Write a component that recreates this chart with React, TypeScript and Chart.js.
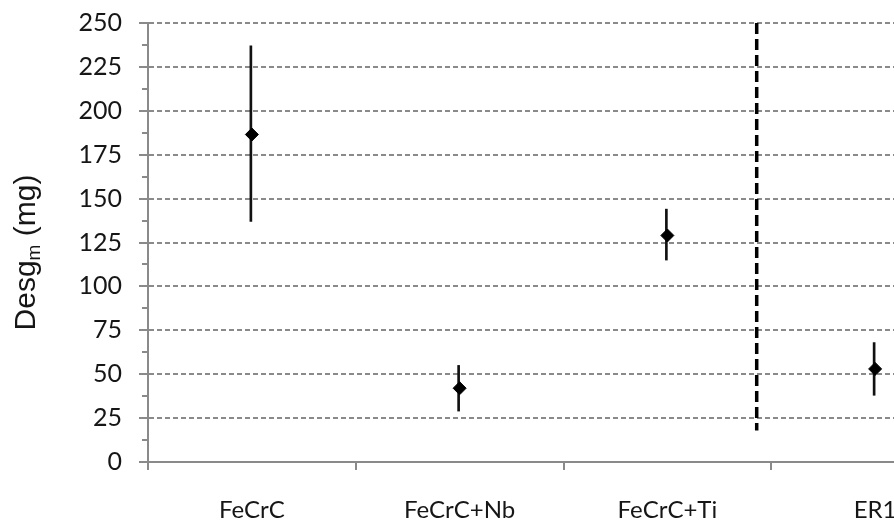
import React, { useEffect, useRef } from 'react';
import { Chart, registerables } from 'chart.js';

Chart.register(...registerables);

// ---- data ----
const categories = ['FeCrC', 'FeCrC+Nb', 'FeCrC+Ti', 'ER1'];
const meanValues = [186.5, 42, 129, 53];
const upperValues = [237, 55, 144, 68];
const lowerValues = [137, 29, 115, 38];
const yMin = 0;
const yMax = 250;
const yStep = 25;
const minorTickValues = [12.5, 37.5, 62.5, 87.5, 112.5, 137.5, 162.5, 187.5, 212.5, 237.5];
const separatorPosition = 2.43;
const separatorTop = 250;
const separatorBottom = 18;
const axisTitleMain = 'Desg';
const axisTitleSub = 'm';
const axisTitleTail = ' (mg)';

const GRAY = '#8a8a8a';
const TEXT = '#161616';

const decorPlugin = {
  id: 'decor',
  afterDraw(chart: any) {
    const ctx = chart.ctx;
    const y = chart.scales.y;
    const left = chart.chartArea.left;
    ctx.save();
    ctx.strokeStyle = GRAY;
    ctx.lineWidth = 2;
    // minor tick marks
    minorTickValues.forEach((v) => {
      const py = Math.round(y.getPixelForValue(v));
      ctx.beginPath();
      ctx.moveTo(left - 6, py);
      ctx.lineTo(left, py);
      ctx.stroke();
    });
    // major tick marks
    y.ticks.forEach((t: any) => {
      const py = Math.round(y.getPixelForValue(t.value));
      ctx.beginPath();
      ctx.moveTo(left - 9, py);
      ctx.lineTo(left, py);
      ctx.stroke();
    });
    ctx.restore();

    // y axis title with subscript
    ctx.save();
    const mainFont = '30px "Liberation Sans", Arial, sans-serif';
    const subFont = '19px "Liberation Sans", Arial, sans-serif';
    ctx.font = mainFont;
    const w1 = ctx.measureText(axisTitleMain).width;
    const w3 = ctx.measureText(axisTitleTail).width;
    ctx.font = subFont;
    const w2 = ctx.measureText(axisTitleSub).width;
    const total = w1 + w2 + w3;
    const centerY = (chart.chartArea.top + chart.chartArea.bottom) / 2 + 10;
    ctx.translate(35, centerY + total / 2);
    ctx.rotate(-Math.PI / 2);
    ctx.fillStyle = TEXT;
    ctx.textBaseline = 'alphabetic';
    ctx.textAlign = 'left';
    ctx.font = mainFont;
    ctx.fillText(axisTitleMain, 0, 0);
    ctx.font = subFont;
    ctx.fillText(axisTitleSub, w1, 5);
    ctx.font = mainFont;
    ctx.fillText(axisTitleTail, w1 + w2, 0);
    ctx.restore();
  },
};

export default function App() {
  const ref = useRef<HTMLCanvasElement>(null);

  useEffect(() => {
    if (!ref.current) return;
    const chart = new Chart(ref.current, {
      type: 'bar',
      data: {
        labels: categories,
        datasets: [
          {
            type: 'line',
            label: 'mean',
            data: meanValues,
            showLine: false,
            pointStyle: 'rectRot',
            pointRadius: 6.5,
            pointBackgroundColor: '#000',
            pointBorderColor: '#000',
            pointBorderWidth: 1,
            order: 0,
          } as any,
          {
            type: 'bar',
            label: 'range',
            data: lowerValues.map((lo, i) => [lo, upperValues[i]]),
            backgroundColor: '#111',
            borderWidth: 0,
            barThickness: 2,
            order: 1,
          } as any,
          {
            type: 'line',
            label: 'separator',
            xAxisID: 'x2',
            data: [
              { x: separatorPosition, y: separatorTop },
              { x: separatorPosition, y: separatorBottom },
            ],
            borderColor: '#000',
            borderWidth: 3.5,
            borderDash: [11, 5],
            pointRadius: 0,
            fill: false,
            order: 2,
          } as any,
        ],
      },
      options: {
        responsive: false,
        animation: false,
        layout: { padding: { top: 23, right: 11, bottom: 0, left: 0 } },
        plugins: { legend: { display: false }, tooltip: { enabled: false } },
        scales: {
          x: {
            type: 'category',
            offset: true,
            grid: {
              offset: true,
              drawOnChartArea: false,
              drawTicks: true,
              tickLength: 8,
              color: GRAY,
              lineWidth: 2,
            },
            border: { color: GRAY, width: 2 },
            ticks: {
              color: TEXT,
              font: { family: 'Lato', size: 24 },
              padding: 26,
              maxRotation: 0,
              autoSkip: false,
            },
            afterFit: (s: any) => {
              s.height = 67;
            },
          },
          x2: {
            type: 'linear',
            display: false,
            offset: false,
            min: -0.5,
            max: 3.5,
            grid: { offset: false },
          },
          y: {
            min: yMin,
            max: yMax,
            ticks: {
              stepSize: yStep,
              color: TEXT,
              font: { family: 'Lato', size: 25 },
              padding: 8,
            },
            grid: {
              color: GRAY,
              lineWidth: 2,
              tickLength: 18,
              tickColor: 'rgba(0,0,0,0)',
              tickBorderDash: [],
            },
            border: { color: GRAY, width: 2, dash: [5, 3] },
            afterFit: (s: any) => {
              s.width = 148;
            },
          },
        },
      } as any,
      plugins: [decorPlugin],
    });
    return () => chart.destroy();
  }, []);

  return (
    <div
      style={{
        position: 'fixed',
        left: 0,
        top: 0,
        width: 894,
        height: 529,
        overflow: 'hidden',
        background: '#fff',
      }}
    >
      <canvas ref={ref} width={990} height={529} style={{ display: 'block' }} />
    </div>
  );
}
